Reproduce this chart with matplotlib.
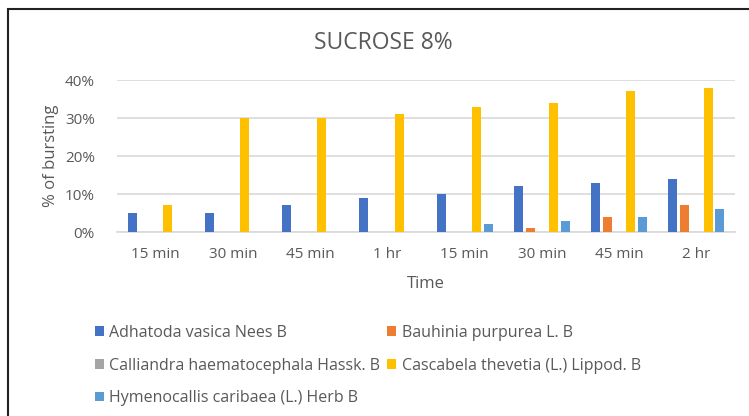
import matplotlib
matplotlib.use("Agg")
import matplotlib.pyplot as plt
import numpy as np
from matplotlib.patches import Rectangle, Patch

categories = ["15 min", "30 min", "45 min", "1 hr", "15 min", "30 min", "45 min", "2 hr"]
series_names = ["Adhatoda vasica Nees B", "Bauhinia purpurea L. B",
                "Calliandra haematocephala Hassk. B", "Cascabela thevetia (L.) Lippod. B",
                "Hymenocallis caribaea (L.) Herb B"]
adhatoda = [5, 5, 7, 9, 10, 12, 13, 14]
bauhinia = [0, 0, 0, 0, 0, 1, 4, 7]
calliandra = [0, 0, 0, 0, 0, 0, 0, 0]
cascabela = [7, 30, 30, 31, 33, 34, 37, 38]
hymenocallis = [0, 0, 0, 0, 2, 3, 4, 6]
yticks = [0, 10, 20, 30, 40]
colors = ["#4472C4", "#ED7D31", "#A5A5A5", "#FFC000", "#5B9BD5"]

plt.rcParams['font.family'] = ['Open Sans', 'DejaVu Sans']
txt = "#595959"

fig = plt.figure(figsize=(7.49, 4.16), dpi=100)
ax = fig.add_axes([117/749, 1-232/416, (735-117)/749, (232-80)/416])

data = [adhatoda, bauhinia, calliandra, cascabela, hymenocallis]
x = np.arange(len(categories))
slot = 0.152
bw = 0.117
handles = []
for i, (vals, c, name) in enumerate(zip(data, colors, series_names)):
    ax.bar(x + (i-2)*slot, vals, width=bw, color=c, edgecolor='none', zorder=3)
    handles.append(Patch(facecolor=c, edgecolor='none', label=name))

ax.set_xlim(-0.5, len(categories)-0.5)
ax.set_ylim(0, 40)
ax.set_yticks(yticks)
ax.set_yticklabels([f"{v}%" for v in yticks])
ax.set_xticks(x)
ax.set_xticklabels(categories)
ax.yaxis.grid(True, color="#D9D9D9", linewidth=1.2, zorder=0)
ax.set_axisbelow(True)
for s in ["top", "right", "left"]:
    ax.spines[s].set_visible(False)
ax.spines["bottom"].set_color("#D9D9D9")
ax.spines["bottom"].set_linewidth(1.2)
ax.tick_params(axis='both', length=0, colors=txt, labelsize=11)
ax.tick_params(axis='x', pad=11)
ax.tick_params(axis='y', pad=16)
ax.set_ylabel("% of bursting", fontsize=12, color=txt, labelpad=4)
ax.set_xlabel("Time", fontsize=12, color=txt, labelpad=10)

fig.text(383/749, 1-43/416, "SUCROSE 8%", fontsize=16.5, color=txt, ha='center', va='center')

order = [0, 2, 4, 1, 3]
leg = fig.legend([handles[i] for i in order], [series_names[i] for i in order],
                 ncol=2, loc='upper left', bbox_to_anchor=(82/749, 1-312/416),
                 frameon=False, fontsize=11.5, handlelength=0.55, handleheight=0.55,
                 handletextpad=0.35, columnspacing=0.45, labelspacing=1.05,
                 labelcolor=txt, borderpad=0.3)

fig.patches.append(Rectangle((8/749, -0.1), 1.2, 1-9/416+0.1, transform=fig.transFigure,
                             fill=False, edgecolor="#222222", linewidth=1.5))

fig.savefig("out.png", dpi=100)
